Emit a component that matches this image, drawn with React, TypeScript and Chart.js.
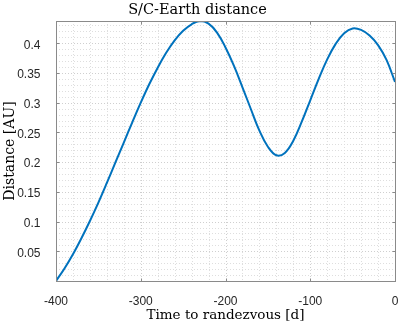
import React, { useEffect, useRef } from 'react';
import { Chart, registerables } from 'chart.js';

Chart.register(...registerables);

const TITLE = 'S/C-Earth distance';
const X_LABEL = 'Time to randezvous [d]';
const Y_LABEL = 'Distance [AU]';

const days = [
  -400, -390, -380, -370, -360, -350, -340, -330, -320, -310,
  -300, -290, -280, -270, -260, -250, -240, -230, -220, -210,
  -200, -190, -180, -170, -160, -150, -140, -130, -120, -110,
  -100, -90, -80, -70, -60, -50, -40, -30, -20, -10,
  0,
];

const distance = [
  0.0, 0.021, 0.045, 0.072, 0.101, 0.132, 0.165, 0.199, 0.233, 0.267,
  0.3, 0.331, 0.359, 0.384, 0.405, 0.421, 0.432, 0.4375, 0.433, 0.418,
  0.393, 0.362, 0.326, 0.289, 0.253, 0.226, 0.2115, 0.2155, 0.236, 0.268,
  0.304, 0.34, 0.373, 0.399, 0.417, 0.425, 0.4225, 0.413, 0.397, 0.372,
  0.335,
];

const X_MIN = -400;
const X_MAX = 0;
const Y_MIN = 0;
const Y_MAX = 0.4375;
const xMajorStep = 100;
const xMinorStep = 20;
const yMajorStep = 0.05;
const yMinorStep = 0.01;

const LINE_COLOR = '#0072BD';
const AXIS_COLOR = '#8a8a8a';
const TEXT_COLOR = '#262626';

const axesPlugin = {
  id: 'matlabAxes',
  beforeDatasetsDraw(chart: any) {
    const { ctx, chartArea: a, scales } = chart;
    const x = scales.x;
    const y = scales.y;
    ctx.save();
    ctx.lineWidth = 1;
    ctx.setLineDash([1, 2]);
    for (let v = X_MIN + xMinorStep; v < X_MAX; v += xMinorStep) {
      const major = Math.abs(v % xMajorStep) < 1e-9;
      ctx.strokeStyle = major ? '#cfcfcf' : '#dedede';
      const px = Math.round(x.getPixelForValue(v)) + 0.5;
      ctx.beginPath();
      ctx.moveTo(px, a.top);
      ctx.lineTo(px, a.bottom);
      ctx.stroke();
    }
    for (let i = 1; i * yMinorStep < Y_MAX; i++) {
      const v = i * yMinorStep;
      const major = i % 5 === 0;
      ctx.strokeStyle = major ? '#cfcfcf' : '#dedede';
      const py = Math.round(y.getPixelForValue(v)) + 0.5;
      ctx.beginPath();
      ctx.moveTo(a.left, py);
      ctx.lineTo(a.right, py);
      ctx.stroke();
    }
    ctx.restore();
  },
  afterDatasetsDraw(chart: any) {
    const { ctx, chartArea: a, scales } = chart;
    const x = scales.x;
    const y = scales.y;
    const L = Math.round(a.left) + 0.5;
    const R = Math.round(a.right) + 0.5;
    const T = Math.round(a.top) + 0.5;
    const B = Math.round(a.bottom) + 0.5;
    ctx.save();
    ctx.strokeStyle = AXIS_COLOR;
    ctx.lineWidth = 1;
    ctx.setLineDash([]);
    ctx.strokeRect(L, T, R - L, B - T);
    const tl = 3;
    ctx.beginPath();
    for (let v = X_MIN; v <= X_MAX; v += xMajorStep) {
      const px = Math.round(x.getPixelForValue(v)) + 0.5;
      ctx.moveTo(px, B);
      ctx.lineTo(px, B - tl);
      ctx.moveTo(px, T);
      ctx.lineTo(px, T + tl);
    }
    for (let i = 1; i * yMajorStep < Y_MAX; i++) {
      const py = Math.round(y.getPixelForValue(i * yMajorStep)) + 0.5;
      ctx.moveTo(L, py);
      ctx.lineTo(L + tl, py);
      ctx.moveTo(R, py);
      ctx.lineTo(R - tl, py);
    }
    ctx.stroke();
    ctx.restore();
  },
};

export default function App() {
  const ref = useRef<HTMLCanvasElement | null>(null);

  useEffect(() => {
    if (!ref.current) return;
    const chart = new Chart(ref.current, {
      type: 'line',
      data: {
        labels: days,
        datasets: [
          {
            data: days.map((d, i) => ({ x: d, y: distance[i] })),
            borderColor: LINE_COLOR,
            backgroundColor: LINE_COLOR,
            borderWidth: 2,
            pointRadius: 0,
            tension: 0.4,
            fill: false,
          },
        ],
      },
      options: {
        animation: false,
        responsive: false,
        devicePixelRatio: 1,
        layout: { padding: { left: 0, right: 4, top: 0, bottom: 0 } },
        plugins: {
          legend: { display: false },
          tooltip: { enabled: false },
          title: {
            display: true,
            text: TITLE,
            color: '#000',
            font: { family: 'DejaVu Serif', size: 14.5, weight: 'normal' },
            padding: { top: 2, bottom: 1.6 },
          },
        },
        scales: {
          x: {
            type: 'linear',
            min: X_MIN,
            max: X_MAX,
            grid: { display: false },
            border: { display: false },
            ticks: {
              stepSize: xMajorStep,
              includeBounds: false,
              padding: 5,
              color: TEXT_COLOR,
              font: { family: 'Liberation Sans', size: 12 },
              maxRotation: 0,
              callback: (v: any) => String(v),
            },
            title: {
              display: true,
              text: X_LABEL,
              color: '#000',
              font: { family: 'DejaVu Serif', size: 13.5, weight: 'normal' },
              padding: { top: 0, bottom: 0 },
            },
            afterFit: (s: any) => {
              s.height = 43;
              s.paddingLeft = 0;
              s.paddingRight = 0;
            },
          },
          y: {
            type: 'linear',
            min: Y_MIN,
            max: Y_MAX,
            grid: { display: false },
            border: { display: false },
            ticks: {
              stepSize: yMajorStep,
              includeBounds: false,
              padding: 7.5,
              labelOffset: 2,
              color: TEXT_COLOR,
              font: { family: 'Liberation Sans', size: 12 },
              callback: (v: any) => (Math.abs(v) < 1e-9 ? '' : String(+Number(v).toFixed(2))),
            },
            title: {
              display: true,
              text: Y_LABEL,
              color: '#000',
              font: { family: 'DejaVu Serif', size: 14, weight: 'normal' },
              padding: { top: 2, bottom: 0 },
            },
            afterFit: (s: any) => {
              s.width = 56;
              s.paddingTop = 0;
              s.paddingBottom = 0;
            },
          },
        },
      },
      plugins: [axesPlugin],
    });
    return () => chart.destroy();
  }, []);

  return (
    <div style={{ position: 'fixed', left: 0, top: 0, width: 399, height: 324, background: '#fff' }}>
      <canvas ref={ref} width={399} height={324} style={{ display: 'block' }} />
    </div>
  );
}
